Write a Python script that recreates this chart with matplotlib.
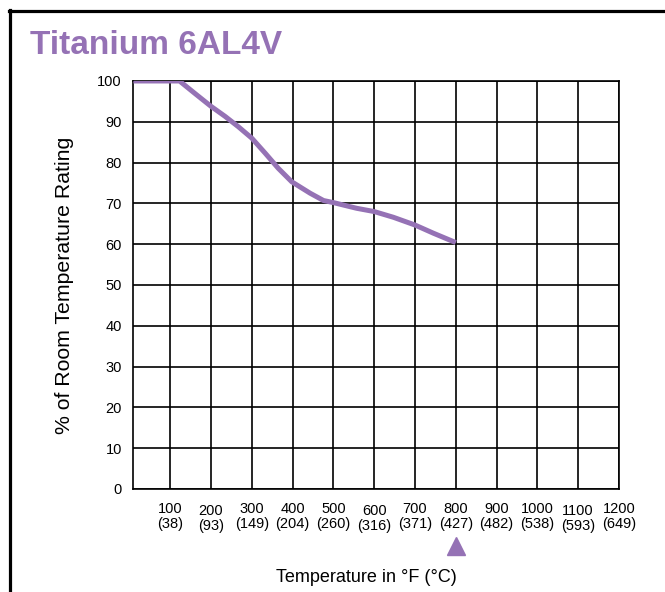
import matplotlib
matplotlib.use('Agg')
import matplotlib.pyplot as plt
from matplotlib.lines import Line2D

plt.rcParams['font.family'] = ['Liberation Sans', 'DejaVu Sans']

# Curve (deg F, % of room temperature rating)
temps_f = [10, 123, 160, 200, 235, 267, 300, 333, 365, 398, 443, 476, 500,
           557, 600, 647, 700, 745, 800]
rating = [100, 100, 97.0, 93.8, 91.3, 88.8, 86.0, 82.3, 78.6, 75.3, 72.5, 70.7, 70.2,
          68.8, 68.0, 66.6, 64.7, 62.7, 60.4]

tick_f = [100, 200, 300, 400, 500, 600, 700, 800, 900, 1000, 1100, 1200]
tick_c = [38, 93, 149, 204, 260, 316, 371, 427, 482, 538, 593, 649]
y_ticks = [0, 10, 20, 30, 40, 50, 60, 70, 80, 90, 100]
marker_temp = 800

purple = '#9572b5'

fig = plt.figure(figsize=(6.65, 5.92), dpi=100)
ax = fig.add_axes([0.2, 0.174, 0.7308, 0.6892])

ax.plot(temps_f, rating, color=purple, linewidth=3.6, solid_capstyle='butt',
        solid_joinstyle='round', zorder=3)

ax.set_xlim(9, 1200)
ax.set_ylim(0, 100)
ax.set_xticks(tick_f)
ax.set_xticklabels([])
ax.set_yticks(y_ticks)
ax.tick_params(axis='both', length=0, labelsize=10.5, pad=8)
ax.grid(True, color='black', linewidth=1.2)
for s in ax.spines.values():
    s.set_color('black')
    s.set_linewidth(1.2)

# two-line x labels, some of them sit a little lower
for f, c in zip(tick_f, tick_c):
    dy = -1.5 if f in (200, 600, 1100) else 0
    ax.annotate(f'{f}\n({c})', xy=(f, 0), xycoords=('data', 'axes fraction'),
                xytext=(0, -9.5 + dy), textcoords='offset points',
                ha='center', va='top', fontsize=10.5, linespacing=1.1)

ax.plot([marker_temp], [-14], marker='^', color=purple, markersize=13,
        clip_on=False, zorder=4)

ax.set_ylabel('% of Room Temperature Rating', fontsize=15.3)
ax.yaxis.set_label_coords(-0.122, 0.5)
fig.text(0.5508, 1 - 578 / 592, 'Temperature in \u00b0F (\u00b0C)', ha='center', va='center',
         fontsize=13)

fig.text(30 / 665, 1 - 45 / 592, 'Titanium 6AL4V', color=purple, fontsize=24,
         fontweight='bold', ha='left', va='center')

# outer frame (top and left edges visible)
fig.add_artist(Line2D([9.5 / 665, 9.5 / 665], [0, 1 - 10 / 592], color='black',
                      linewidth=2.3, transform=fig.transFigure))
fig.add_artist(Line2D([8.5 / 665, 1], [1 - 11 / 592, 1 - 11 / 592], color='black',
                      linewidth=2.3, transform=fig.transFigure))

fig.savefig('out.png', dpi=100)
